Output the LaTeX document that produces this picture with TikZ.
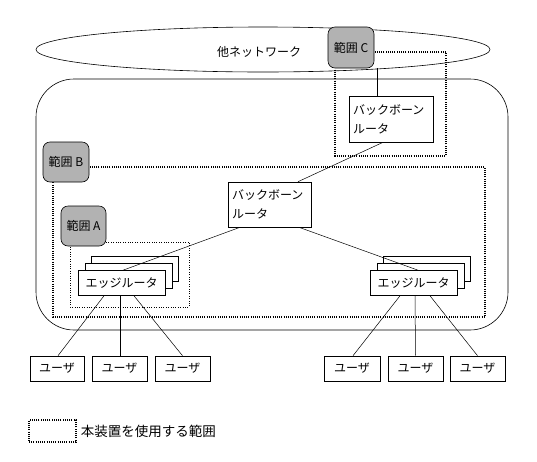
\documentclass[tikz,border=0pt]{standalone}
\usepackage{fontspec}
\setmainfont{Noto Sans CJK JP}
\usetikzlibrary{shapes.geometric}
\begin{document}
\begin{tikzpicture}[x=1pt,y=-1pt,
  txt/.style={font=\fontsize{12pt}{19pt}\selectfont},
  box/.style={draw, fill=white, inner sep=0pt, line width=0.6pt, txt},
  rangebox/.style={draw, fill=gray!60, rounded corners=7pt, inner sep=0pt, line width=0.6pt, txt},
  dotthick/.style={dash pattern=on 1pt off 1.2pt, line width=1.3pt},
  dotthin/.style={dash pattern=on 0.8pt off 1.6pt, line width=0.6pt},
  link/.style={line width=0.5pt},
  router/.style={box, minimum width=87pt, minimum height=25pt},
  user/.style={box, minimum height=25pt},
  bbr/.style={box, align=left, text width=76pt, minimum height=45pt, inner xsep=4pt}
]
\useasboundingbox (0,0) rectangle (537,461);
% other network
\node[draw, ellipse, minimum width=454pt, minimum height=45pt, line width=0.6pt] (net) at (263,49.5) {};
\node[txt] (nettxt) at (259,52) {他ネットワーク};
% big domain
\node[draw, rounded corners=38pt, minimum width=472pt, minimum height=251pt, line width=0.6pt] (dom) at (272,204.5) {};
% dotted ranges
\draw[dotthick] (335,52) rectangle (446,156);
\draw[dotthick] (53,167) rectangle (485,317);
\draw[dotthin] (70,242) rectangle (189,307);
% range boxes
\node[rangebox, minimum width=46pt, minimum height=41pt] (rc) at (351,47.5) {範囲 C};
\node[rangebox, minimum width=46pt, minimum height=40pt] (rb) at (66,162) {範囲 B};
\node[rangebox, minimum width=45pt, minimum height=40pt] (ra) at (83.5,226) {範囲 A};
% backbone routers
\node[bbr, text width=76pt, minimum height=46pt] (bb1) at (391,119) {バックボーン\\ルータ};
\node[bbr, text width=75pt, minimum height=45pt] (bb2) at (269.5,204.5) {バックボーン\\ルータ};
% edge router stacks
\node[router] (er1c) at (135,268.5) {};
\node[router] (er1b) at (128.5,275.5) {};
\node[router] (er1) at (121.5,283) {エッジルータ};
\node[router] (er2c) at (427,268.5) {};
\node[router] (er2b) at (420.5,275.5) {};
\node[router] (er2) at (413.5,283) {エッジルータ};
% users
\node[user, minimum width=54pt] (u1) at (57,368.5) {ユーザ};
\node[user, minimum width=55pt] (u2) at (119.5,368.5) {ユーザ};
\node[user, minimum width=55pt] (u3) at (182.5,368.5) {ユーザ};
\node[user, minimum width=56pt] (u4) at (352,368.5) {ユーザ};
\node[user, minimum width=55pt] (u5) at (415.5,368.5) {ユーザ};
\node[user, minimum width=55pt] (u6) at (477.5,368.5) {ユーザ};
% links
\draw[link] ([xshift=26pt]rc.south) -- ([xshift=-14pt]bb1.north);
\draw[link] ([xshift=-8pt]bb1.south) -- ([xshift=28.5pt]bb2.north);
\draw[link] ([xshift=-29.5pt]bb2.south) -- ([xshift=1.5pt]er1.north);
\draw[link] ([xshift=29.5pt]bb2.south) -- ([xshift=4.5pt]er2.north);
\draw[link] ([xshift=-17.5pt]er1.south) -- ([xshift=1pt]u1.north);
\draw[link] ([xshift=-1.5pt]er1.south) -- ([xshift=0.5pt]u2.north);
\draw[link] ([xshift=12.5pt]er1.south) -- (u3.north);
\draw[link] ([xshift=-13.5pt]er2.south) -- ([xshift=1pt]u4.north);
\draw[link] ([xshift=1.5pt]er2.south) -- (u5.north);
\draw[link] ([xshift=16.5pt]er2.south) -- (u6.north);
% legend
\node[draw, dotthick, minimum width=47pt, minimum height=22pt, inner sep=0pt] (leg) at (52.5,431) {};
\node[font=\fontsize{13.5pt}{16pt}\selectfont, anchor=west, inner sep=0pt] (legtxt) at ([xshift=4pt]leg.east) {本装置を使用する範囲};
\end{tikzpicture}
\end{document}
